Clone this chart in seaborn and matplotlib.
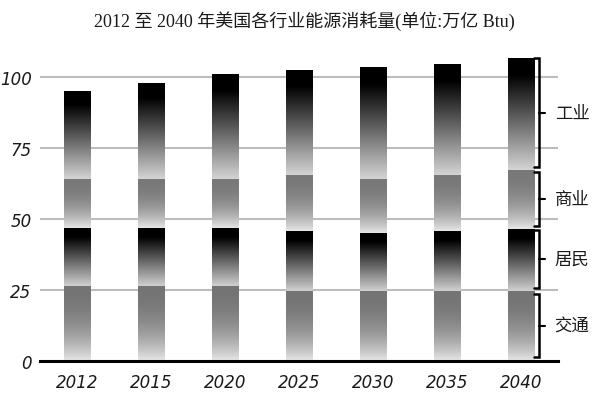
import matplotlib
matplotlib.use("Agg")
import matplotlib.pyplot as plt
import numpy as np
import pandas as pd
import seaborn as sns

years = ['2012', '2015', '2020', '2025', '2030', '2035', '2040']
sectors = ['交通', '居民', '商业', '工业']
transport = [26.5, 26.5, 26.5, 24.7, 24.7, 24.7, 24.7]
residential = [20.3, 20.3, 20.3, 20.9, 20.3, 20.9, 21.8]
commercial = [17.3, 17.3, 17.3, 19.9, 19.1, 19.9, 20.9]
industrial = [30.8, 33.8, 37.0, 36.7, 39.2, 39.1, 39.4]

# bracket ranges at the right (annotation only)
bracket_spans = [(1.3, 23.5), (25.6, 46.1), (47.5, 66.6), (68.3, 106.8)]

# top colour, bottom colour of each segment gradient
grad = {
    '交通': ('#747474', '#e8e8e8'),
    '居民': ('#000000', '#d0d0d0'),
    '商业': ('#787878', '#e6e6e6'),
    '工业': ('#000000', '#d4d4d4'),
}

df = pd.DataFrame({'year': years, '交通': transport, '居民': residential,
                   '商业': commercial, '工业': industrial})

sns.set_style('white')
plt.rcParams['font.family'] = ['DejaVu Sans', 'Noto Sans CJK SC']

fig = plt.figure(figsize=(6.09, 4.06), dpi=100)
ax = fig.add_axes([0.0657, 0.109, 0.851, 0.754])

cum = df[sectors].cumsum(axis=1)
bottoms = cum.shift(1, axis=1).fillna(0)

# draw from highest cumulative down so every segment is visible
patches_by_sector = {}
for s in reversed(sectors):
    before = len(ax.patches)
    sns.barplot(x=df['year'], y=cum[s], color='white', width=0.36, ax=ax,
                linewidth=0, zorder=2)
    patches_by_sector[s] = ax.patches[before:]

u = np.linspace(0, 1, 256)
for s in sectors:
    top_c, bot_c = grad[s]
    t = np.array(matplotlib.colors.to_rgb(top_c))
    b = np.array(matplotlib.colors.to_rgb(bot_c))
    if s in ('居民', '工业'):
        f = np.clip((u - 0.15) / 0.85, 0, 1)
    else:
        f = u ** 2.2
    img = (t[None, :] * (1 - f[:, None]) + b[None, :] * f[:, None])[:, None, :]
    for i, p in enumerate(patches_by_sector[s]):
        x0 = p.get_x()
        w = p.get_width()
        y0 = bottoms[s].iloc[i]
        y1 = cum[s].iloc[i]
        p.set_visible(False)
        ax.imshow(img, extent=(x0, x0 + w, y0, y1), aspect='auto',
                  interpolation='bilinear', zorder=2, origin='upper')
ax.set_xlim(-0.5, 6.5)
ax.set_ylim(0, 108)

ax.set_yticks([0, 25, 50, 75, 100])
ax.yaxis.grid(True, color='#bdbdbd', linewidth=1.5, zorder=1)
ax.set_axisbelow(True)
for sp in ['top', 'right', 'left']:
    ax.spines[sp].set_visible(False)
ax.spines['bottom'].set_linewidth(2.2)
ax.spines['bottom'].set_color('black')
ax.tick_params(axis='both', length=0, labelsize=12, pad=6)
ax.tick_params(axis='x', pad=9)
for lab in ax.get_xticklabels() + ax.get_yticklabels():
    lab.set_fontstyle('italic')
    lab.set_color('#1a1a1a')
ax.set_xlabel('')
ax.set_ylabel('')

# brackets
trans = matplotlib.transforms.blended_transform_factory(fig.transFigure, ax.transData)
bx = 539 / 609
cap = 5 / 609
tick = 6 / 609
for (lo, hi), name in zip(bracket_spans, sectors):
    ax.plot([bx - cap, bx, bx, bx - cap], [hi, hi, lo, lo], color='black',
            linewidth=1.8, transform=trans, clip_on=False, solid_joinstyle='miter')
    mid = (lo + hi) / 2
    ax.plot([bx, bx + tick], [mid, mid], color='black', linewidth=1.5,
            transform=trans, clip_on=False)
    ax.text(572 / 609, mid, name, transform=trans, ha='center', va='center',
            fontsize=12.5, family=['Noto Sans CJK SC'], color='#1a1a1a')

fig.text(0.5, 0.948, '2012 至 2040 年美国各行业能源消耗量(单位:万亿 Btu)',
         ha='center', va='center', fontsize=13,
         family=['Liberation Serif', 'Noto Sans CJK SC'], color='#1a1a1a')

fig.savefig('out.png', dpi=100)
